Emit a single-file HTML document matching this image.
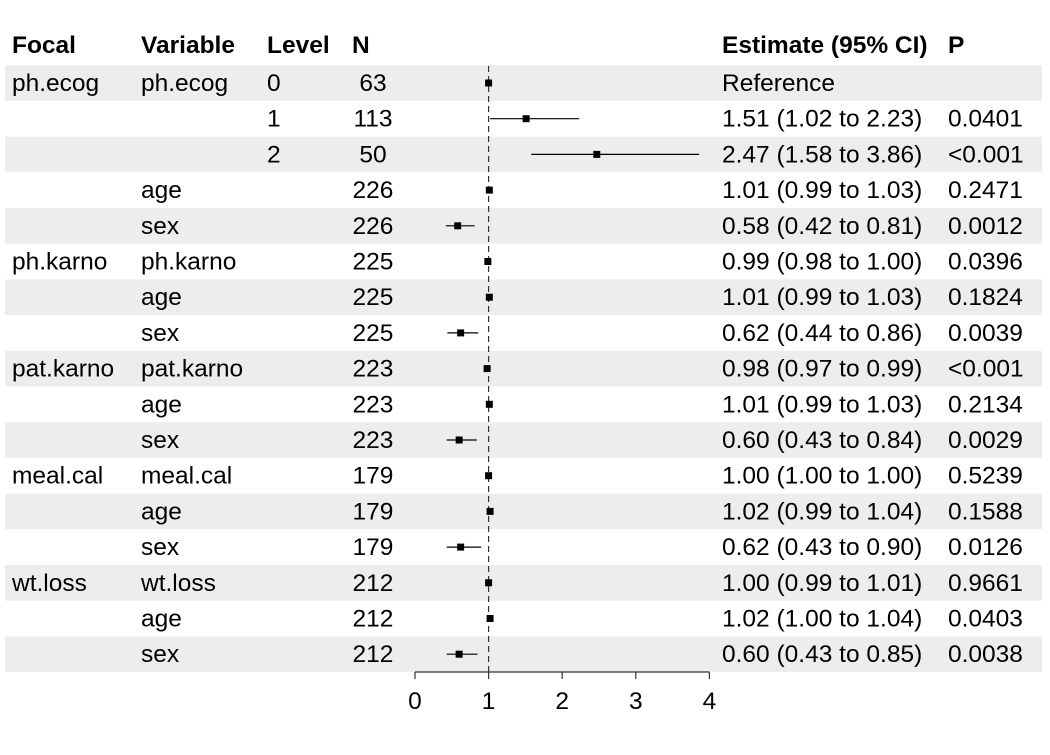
<!DOCTYPE html>
<html><head><meta charset="utf-8"><style>
body{margin:0;background:#fff}
svg text{font-family:"Liberation Sans",sans-serif;font-size:24.5px;fill:#000}
</style></head><body>
<svg width="1050" height="750" xmlns="http://www.w3.org/2000/svg">
<text x="12" y="53" style="font-weight:bold">Focal</text>
<text x="141" y="53" style="font-weight:bold">Variable</text>
<text x="267" y="53" style="font-weight:bold">Level</text>
<text x="352" y="53" style="font-weight:bold">N</text>
<text x="722" y="53" style="font-weight:bold">Estimate (95% CI)</text>
<text x="948" y="53" style="font-weight:bold">P</text>
<g id="rows"></g>
<line x1="488.6" y1="66" x2="488.6" y2="672" stroke="#333" stroke-width="1.2" stroke-dasharray="6,4"/>
<g id="pts"></g>
<line x1="415" y1="672" x2="709.4" y2="672" stroke="#333" stroke-width="1.2"/>
<g stroke="#333" stroke-width="1.2">
<line x1="415" y1="672" x2="415" y2="679"/><line x1="488.6" y1="672" x2="488.6" y2="679"/><line x1="562.2" y1="672" x2="562.2" y2="679"/><line x1="635.8" y1="672" x2="635.8" y2="679"/><line x1="709.4" y1="672" x2="709.4" y2="679"/>
</g>
<g text-anchor="middle">
<text x="415" y="709">0</text><text x="488.6" y="709">1</text><text x="562.2" y="709">2</text><text x="635.8" y="709">3</text><text x="709.4" y="709">4</text>
</g>
<script>
var d=[
["ph.ecog","ph.ecog","0","63",1,1,1,"Reference",""],
["","","1","113",1.51,1.02,2.23,"1.51 (1.02 to 2.23)","0.0401"],
["","","2","50",2.47,1.58,3.86,"2.47 (1.58 to 3.86)","<0.001"],
["","age","","226",1.01,0.99,1.03,"1.01 (0.99 to 1.03)","0.2471"],
["","sex","","226",0.58,0.42,0.81,"0.58 (0.42 to 0.81)","0.0012"],
["ph.karno","ph.karno","","225",0.99,0.98,1.00,"0.99 (0.98 to 1.00)","0.0396"],
["","age","","225",1.01,0.99,1.03,"1.01 (0.99 to 1.03)","0.1824"],
["","sex","","225",0.62,0.44,0.86,"0.62 (0.44 to 0.86)","0.0039"],
["pat.karno","pat.karno","","223",0.98,0.97,0.99,"0.98 (0.97 to 0.99)","<0.001"],
["","age","","223",1.01,0.99,1.03,"1.01 (0.99 to 1.03)","0.2134"],
["","sex","","223",0.60,0.43,0.84,"0.60 (0.43 to 0.84)","0.0029"],
["meal.cal","meal.cal","","179",1.00,1.00,1.00,"1.00 (1.00 to 1.00)","0.5239"],
["","age","","179",1.02,0.99,1.04,"1.02 (0.99 to 1.04)","0.1588"],
["","sex","","179",0.62,0.43,0.90,"0.62 (0.43 to 0.90)","0.0126"],
["wt.loss","wt.loss","","212",1.00,0.99,1.01,"1.00 (0.99 to 1.01)","0.9661"],
["","age","","212",1.02,1.00,1.04,"1.02 (1.00 to 1.04)","0.0403"],
["","sex","","212",0.60,0.43,0.85,"0.60 (0.43 to 0.85)","0.0038"]];
var ns="http://www.w3.org/2000/svg",R=document.getElementById("rows"),P=document.getElementById("pts");
function el(p,t,a,tx){var e=document.createElementNS(ns,t);for(var k in a)e.setAttribute(k,a[k]);if(tx!==undefined)e.textContent=tx;p.appendChild(e);return e;}
function X(v){return 415+73.6*v;}
d.forEach(function(r,i){var y=83+i*35.7;
if(i%2==0)el(R,"rect",{x:5,y:y-17.8,width:1037,height:35.7,fill:"#ebeeed"});
el(R,"text",{x:12,y:y+8},r[0]);el(R,"text",{x:141,y:y+8},r[1]);el(R,"text",{x:267,y:y+8},r[2]);
el(R,"text",{x:373,y:y+8,"text-anchor":"middle"},r[3]);el(R,"text",{x:722,y:y+8},r[7]);el(R,"text",{x:948,y:y+8},r[8]);
el(P,"line",{x1:X(r[5]),x2:X(r[6]),y1:y,y2:y,stroke:"#000","stroke-width":1.2});
el(P,"rect",{x:X(r[4])-3.5,y:y-3.5,width:7,height:7,fill:"#000"});
});
</script>
</svg>
</body></html>
